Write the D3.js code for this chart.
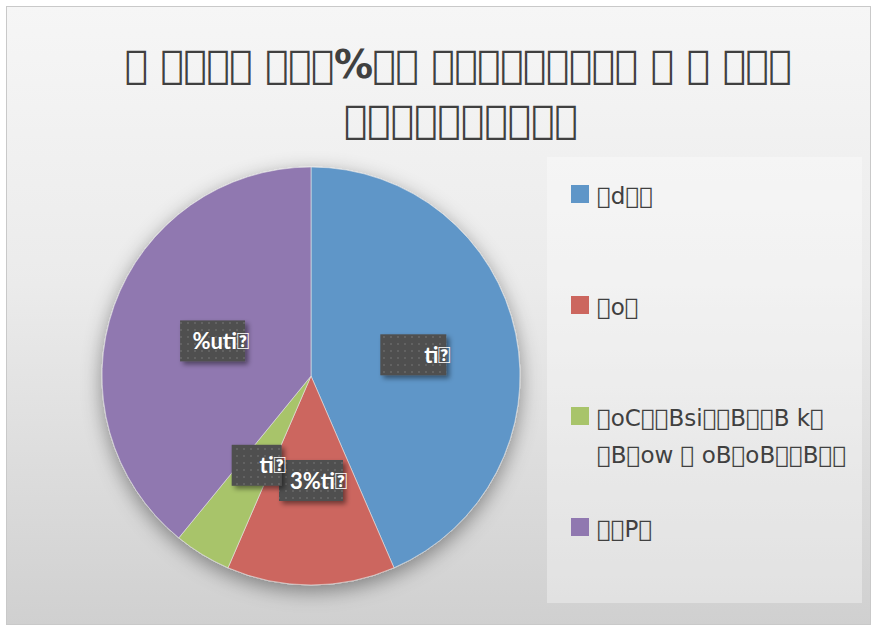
<!DOCTYPE html>
<html><head><meta charset="utf-8">
<script src="https://cdn.jsdelivr.net/npm/d3@7"></script>
<style>html,body{margin:0;padding:0;background:#fff;}svg{display:block;}</style>
</head><body><div id="chart"></div>
<script>
// Text in the reference is rendered as missing-glyph boxes; kept as such.
const T = "\uE000";
const titleLines = [
  T+" "+T+T+T+T+" "+T+T+T+"%"+T+T+"  "+T+T+T+T+T+T+T+T+T+" "+T+" "+T+" "+T+T+T,
  T+T+T+T+T+T+T+T+T+T
];
const categories = [
  [T+"d"+T+T],
  [T+"o"+T],
  [T+"oC"+T+T+"Bsi"+T+T+"B"+T+T+"B k"+T, T+"B"+T+"ow "+T+"  oB"+T+"oB"+T+T+"B"+T+T],
  [T+T+"P"+T]
];
const values = [43.5, 13.0, 4.4, 39.1];
const labels = ["ti"+T, "3%ti"+T, "ti"+T, "%uti"+T];
const colors = ["#5f96c8", "#cc665e", "#a8c46a", "#9078b0"];

const W = 877, H = 631;
const svg = d3.select("#chart").append("svg").attr("width", W).attr("height", H);
const defs = svg.append("defs");
const bg = defs.append("linearGradient").attr("id","bg").attr("x1",0).attr("y1",0).attr("x2",0).attr("y2",1);
bg.append("stop").attr("offset","0%").attr("stop-color","#f6f6f6");
bg.append("stop").attr("offset","45%").attr("stop-color","#ebebeb");
bg.append("stop").attr("offset","100%").attr("stop-color","#d0d0d0");
const sh = defs.append("filter").attr("id","pieShadow").attr("x","-30%").attr("y","-30%").attr("width","160%").attr("height","160%");
sh.append("feDropShadow").attr("dx",0).attr("dy",6).attr("stdDeviation",10).attr("flood-color","#000").attr("flood-opacity",0.4);
const lsh = defs.append("filter").attr("id","lblShadow").attr("x","-30%").attr("y","-30%").attr("width","160%").attr("height","160%");
lsh.append("feDropShadow").attr("dx",3).attr("dy",3).attr("stdDeviation",2.5).attr("flood-color","#000").attr("flood-opacity",0.45);
const pat = defs.append("pattern").attr("id","dots").attr("patternUnits","userSpaceOnUse").attr("width",7).attr("height",7);
pat.append("rect").attr("width",7).attr("height",7).attr("fill","#4f4f4f");
pat.append("rect").attr("x",2).attr("y",2).attr("width",2).attr("height",2).attr("fill","#626262");

svg.append("rect").attr("x",6.5).attr("y",6.5).attr("width",864).attr("height",618)
  .attr("fill","url(#bg)").attr("stroke","#c9c9c9").attr("stroke-width",1);

// title
const title = svg.append("g");
titleLines.forEach((t,i)=>{
  title.append("text").attr("x",[458,461][i]).attr("y",[78,133][i]).attr("text-anchor","middle")
    .attr("font-family","DejaVu Sans").attr("font-weight","bold").attr("font-size",39)
    .attr("letter-spacing",[-0.5,0][i])
    .attr("fill","#404040").text(t);
});

// legend box
svg.append("rect").attr("x",547).attr("y",157).attr("width",315).attr("height",446)
  .attr("fill","#ffffff").attr("opacity",0.35);

// pie
const cx = 311, cy = 376, R = 209;
const pie = d3.pie().sort(null).value(d=>d);
const arcs = pie(values);
const arc = d3.arc().innerRadius(0).outerRadius(R);
const g = svg.append("g").attr("transform",`translate(${cx},${cy})`);
g.append("g").attr("filter","url(#pieShadow)").selectAll("path").data(arcs).join("path")
  .attr("d",arc).attr("fill",(d,i)=>colors[i]).attr("stroke","#e8e8e8").attr("stroke-width",0.6);

// data labels
const lblW = [66, 64, 50, 65];
const lg = g.append("g");
arcs.forEach((d,i)=>{
  const [x,y] = arc.centroid(d);
  const w = lblW[i], h = 41;
  lg.append("rect").attr("x",x-w/2).attr("y",y-h/2).attr("width",w).attr("height",h)
    .attr("fill","url(#dots)").attr("filter","url(#lblShadow)");
  lg.append("text").attr("x",x+w/2+4).attr("y",y+8).attr("text-anchor","end")
    .attr("font-family","Lato").attr("font-weight","bold").attr("font-size",22)
    .attr("fill","#ffffff").text(labels[i]);
});

// legend
const leg = svg.append("g");
categories.forEach((lines,i)=>{
  const y0 = 185 + i*111;
  leg.append("rect").attr("x",571).attr("y",y0).attr("width",18).attr("height",18).attr("fill",colors[i]);
  lines.forEach((t,j)=>{
    leg.append("text").attr("x",597).attr("y",y0+19+j*37)
      .attr("font-family","DejaVu Sans").attr("font-size",23).attr("fill","#404040").text(t);
  });
});
</script></body></html>
